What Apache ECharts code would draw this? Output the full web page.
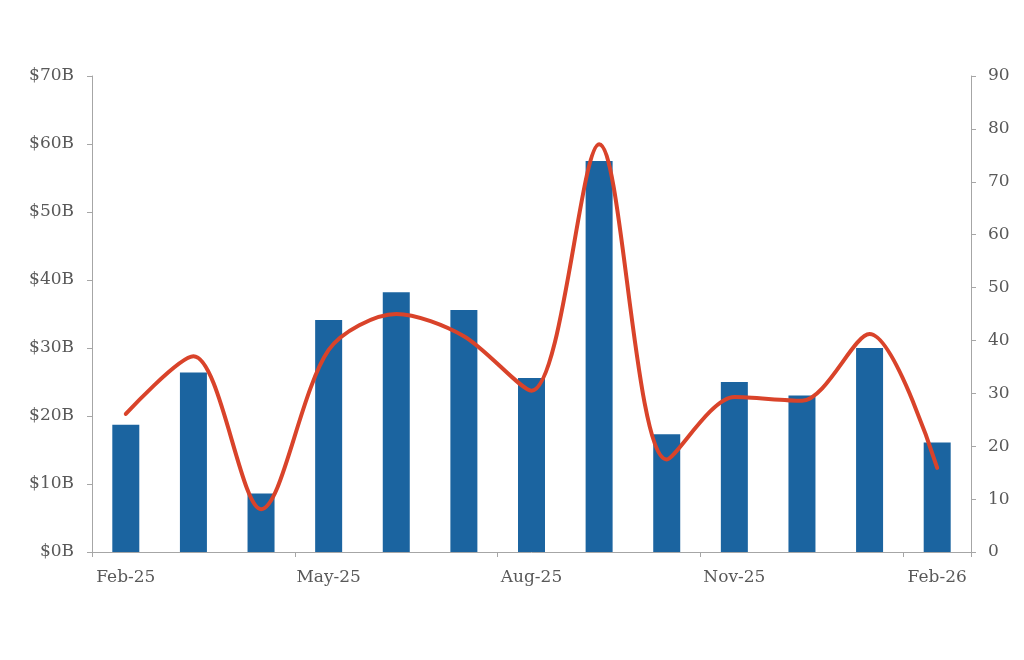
<!DOCTYPE html>
<html>
<head>
<meta charset="utf-8">
<script src="https://cdn.jsdelivr.net/npm/echarts@6/dist/echarts.min.js"></script>
<style>
  html, body { margin: 0; padding: 0; background: #ffffff; }
  #chart { width: 1024px; height: 660px; }
</style>
</head>
<body>
<div id="chart"></div>
<script>
const categories = ['Feb-25','Mar-25','Apr-25','May-25','Jun-25','Jul-25','Aug-25','Sep-25','Oct-25','Nov-25','Dec-25','Jan-26','Feb-26'];
const barValues = [18.7, 26.4, 8.6, 34.1, 38.2, 35.6, 25.6, 57.5, 17.3, 25.0, 23.0, 30.0, 16.1];
const lineValues = [26.1, 37.0, 8.1, 38.2, 45.0, 40.8, 30.5, 77.1, 17.5, 29.3, 28.6, 41.2, 15.9];

const textColor = '#595959';
const axisColor = '#a6a6a6';
const fontFamily = 'DejaVu Serif';

const chart = echarts.init(document.getElementById('chart'));
chart.setOption({
  animation: false,
  grid: { left: 92, right: 53, top: 76, bottom: 108 },
  xAxis: {
    type: 'category',
    data: categories,
    boundaryGap: true,
    axisLine: { lineStyle: { color: axisColor, width: 1 } },
    axisTick: { show: true, interval: 2, length: 5, lineStyle: { color: axisColor } },
    axisLabel: { interval: 2, color: textColor, fontFamily: fontFamily, fontSize: 17, margin: 17 }
  },
  yAxis: [
    {
      type: 'value', min: 0, max: 70, interval: 10,
      axisLine: { show: true, lineStyle: { color: axisColor } },
      axisTick: { show: true, length: 5, lineStyle: { color: axisColor } },
      splitLine: { show: false },
      axisLabel: { color: textColor, fontFamily: fontFamily, fontSize: 17, margin: 18,
        formatter: v => '$' + v + 'B' }
    },
    {
      type: 'value', min: 0, max: 90, interval: 10, position: 'right',
      axisLine: { show: true, lineStyle: { color: axisColor } },
      axisTick: { show: true, length: 5, lineStyle: { color: axisColor } },
      splitLine: { show: false },
      axisLabel: { color: textColor, fontFamily: fontFamily, fontSize: 17, margin: 17 }
    }
  ],
  series: [
    {
      type: 'bar', data: barValues, yAxisIndex: 0, barWidth: 27,
      itemStyle: { color: '#1B64A0' }
    },
    {
      type: 'line', data: lineValues, yAxisIndex: 1, smooth: 0.3,
      showSymbol: false, symbol: 'none',
      lineStyle: { color: '#D9432A', width: 4, cap: 'round' }
    }
  ]
});
</script>
</body>
</html>
